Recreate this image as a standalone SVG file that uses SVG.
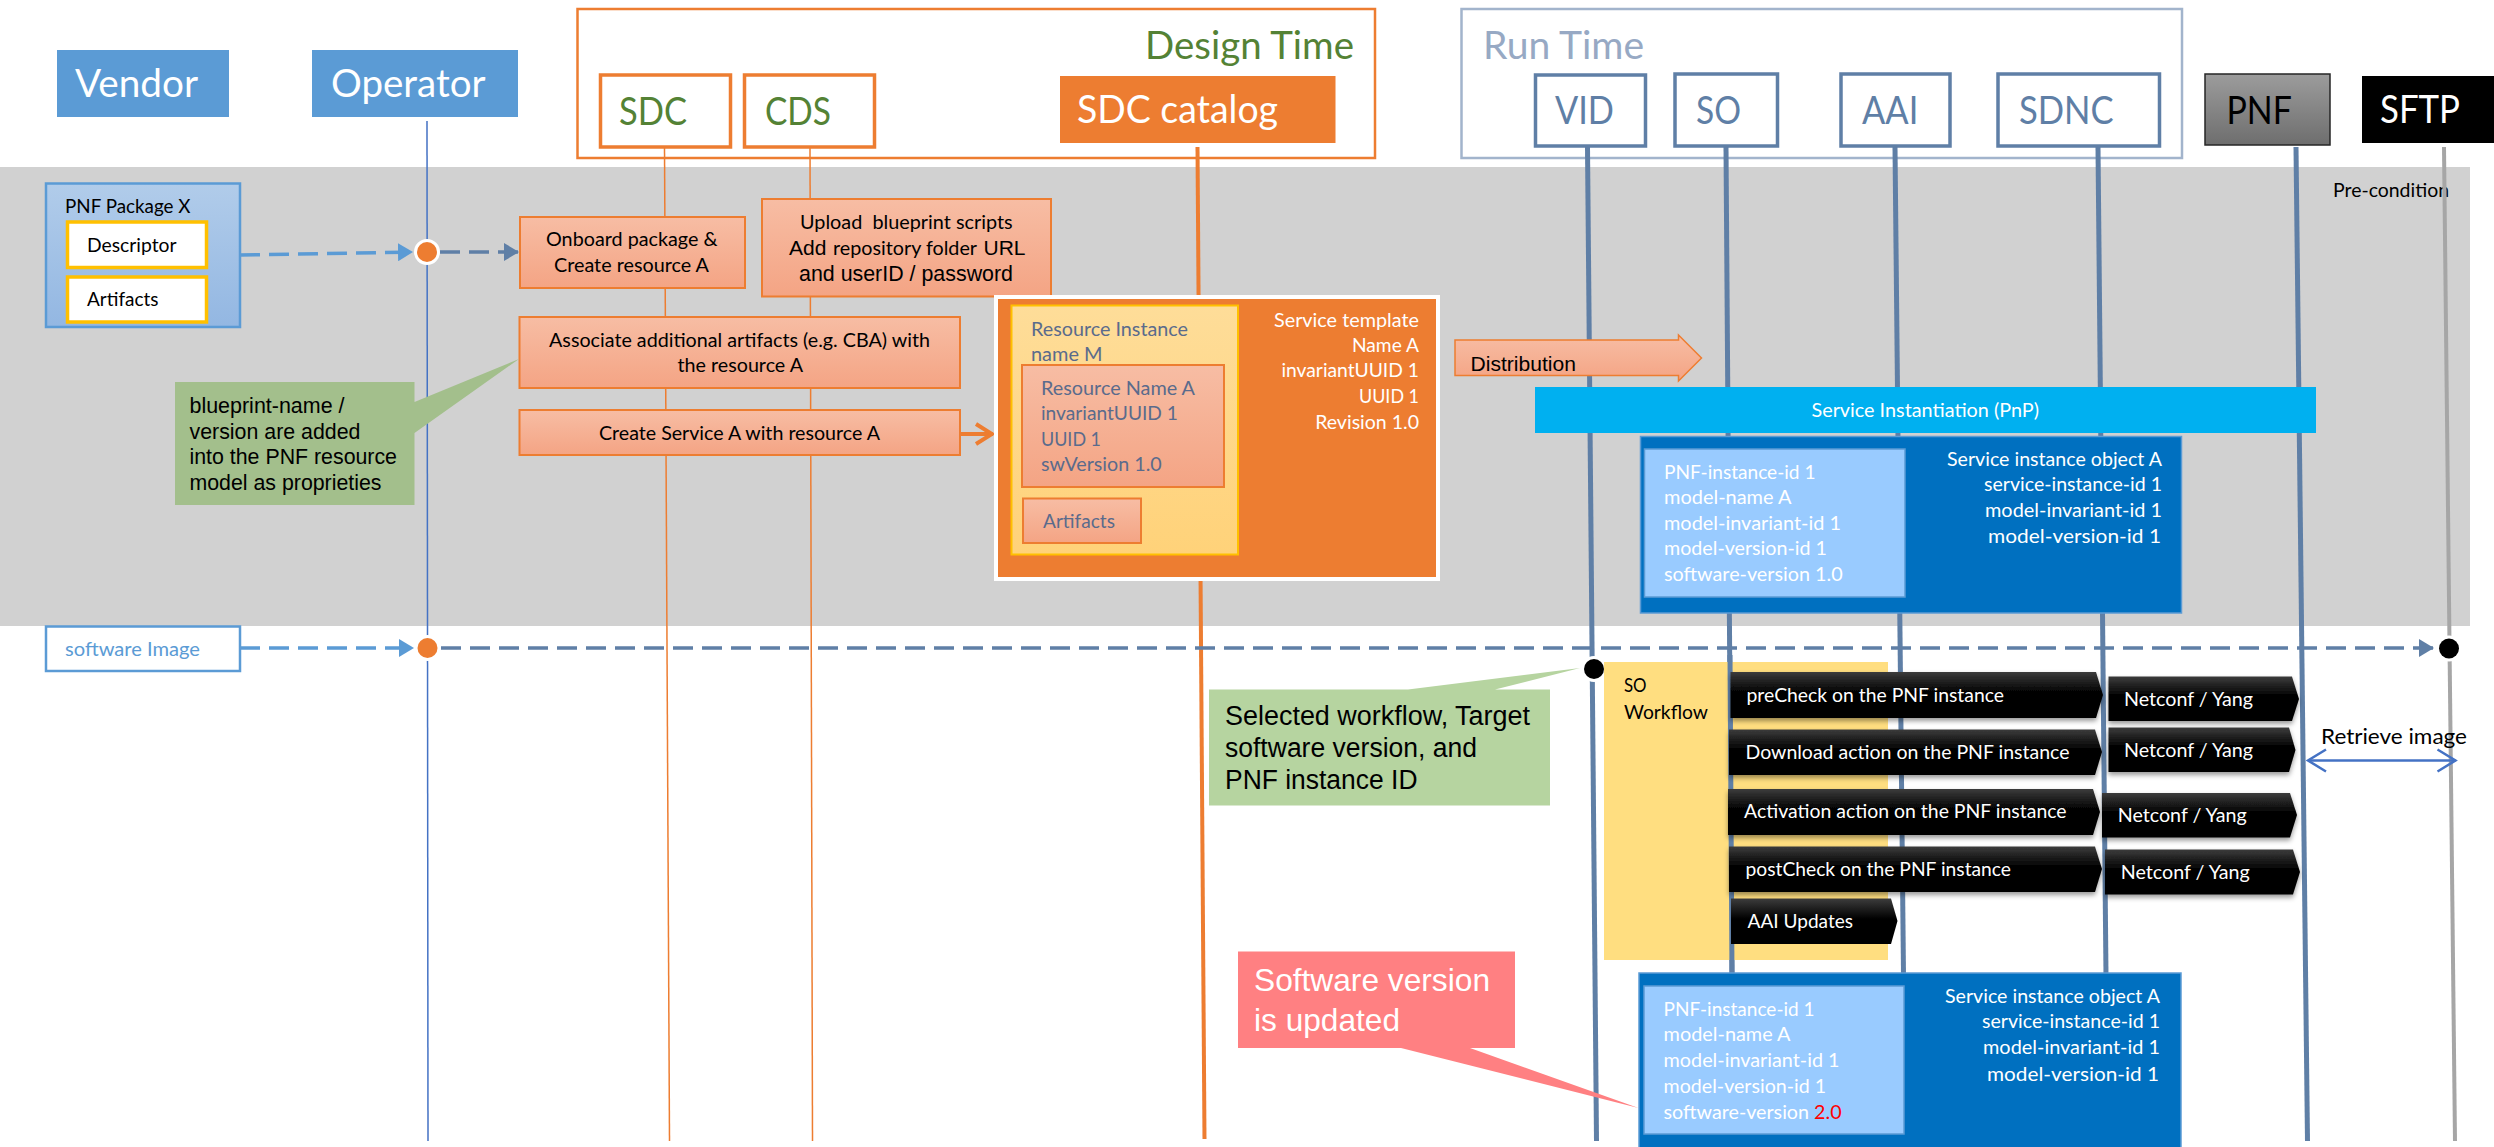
<svg xmlns="http://www.w3.org/2000/svg" width="2494" height="1147" viewBox="0 0 2494 1147">
<style>
text{font-family:Lato,"Open Sans",sans-serif;font-size:19.6px;white-space:pre}
.a{font-family:"Liberation Sans",Arial,sans-serif}
.t{font-size:39px}
.w{fill:#fff}.k{fill:#000}.g{fill:#548235}.s{fill:#5F7FA6}.d{fill:#5A6B8C}
.e{text-anchor:end}
.sal{fill:url(#sal);stroke:#ED7D31;stroke-width:2}
.ob{fill:#fff;stroke:#ED7D31;stroke-width:3.5}
.rb{fill:#fff;stroke:#5F7FA6;stroke-width:3.5}
.yb{fill:#fff;stroke:#FFC000;stroke-width:3.5}
.life{stroke:#5F7FA6;stroke-width:5;fill:none}
.dl{stroke-width:3.5;stroke-dasharray:20 9;fill:none}
.blk{fill:url(#blk);filter:url(#sh)}
.blu{fill:#0070C0;stroke:#5B9BD5;stroke-width:1.5}
.lb{fill:#99CBFF;stroke:#5B9BD5;stroke-width:1.5}
.dot{stroke:#fff;stroke-width:6;paint-order:stroke}
</style>
<defs>
<linearGradient id="sal" x1="0" y1="0" x2="0" y2="1"><stop offset="0" stop-color="#F7BDA4"/><stop offset="1" stop-color="#F4A484"/></linearGradient>
<linearGradient id="pkg" x1="0" y1="0" x2="0" y2="1"><stop offset="0" stop-color="#B1CCEA"/><stop offset="1" stop-color="#93B7E2"/></linearGradient>
<linearGradient id="yel" x1="0" y1="0" x2="0" y2="1"><stop offset="0" stop-color="#FEDD99"/><stop offset="1" stop-color="#FFD279"/></linearGradient>
<linearGradient id="pnf" x1="0" y1="0" x2="0" y2="1"><stop offset="0" stop-color="#9C9C9C"/><stop offset="1" stop-color="#6E6E6E"/></linearGradient>
<linearGradient id="blk" x1="0" y1="0" x2="0" y2="1"><stop offset="0" stop-color="#3C3C3C"/><stop offset="0.45" stop-color="#000"/><stop offset="1" stop-color="#000"/></linearGradient>
<filter id="sh" x="-5%" y="-10%" width="110%" height="130%"><feDropShadow dx="0" dy="3" stdDeviation="2.5" flood-color="#000" flood-opacity="0.4"/></filter>
<marker id="mb" markerUnits="userSpaceOnUse" markerWidth="15" markerHeight="18" refX="15" refY="9" orient="auto"><path d="M0 0L15 9L0 18z" fill="#5B9BD5"/></marker>
<marker id="ms" markerUnits="userSpaceOnUse" markerWidth="15" markerHeight="18" refX="15" refY="9" orient="auto"><path d="M0 0L15 9L0 18z" fill="#5F7FA6"/></marker>
<marker id="mo" markerUnits="userSpaceOnUse" markerWidth="20" markerHeight="24" refX="19" refY="12" orient="auto"><path d="M2 2L18 12L2 22" fill="none" stroke="#ED7D31" stroke-width="4"/></marker>
<marker id="mr" markerUnits="userSpaceOnUse" markerWidth="22" markerHeight="26" refX="20" refY="13" orient="auto-start-reverse"><path d="M2 2L20 13L2 24" fill="none" stroke="#4472C4" stroke-width="2.5"/></marker>
</defs>
<rect id="precondition-band" x="0" y="167" width="2470" height="459" fill="#D1D1D1"/>
<g id="design-time"><rect x="577.5" y="9" width="797.5" height="149" fill="none" stroke="#ED7D31" stroke-width="2.5"/><text class="t g" x="1145" y="59" textLength="209" lengthAdjust="spacingAndGlyphs">Design Time</text></g>
<g id="run-time"><rect x="1461.5" y="9" width="720.5" height="149" fill="none" stroke="#A2B4CC" stroke-width="2.5"/><text class="t" fill="#97A9C4" x="1483" y="59" textLength="161" lengthAdjust="spacingAndGlyphs">Run Time</text></g>
<text id="pre-condition" class="k" x="2333" y="196.5" textLength="116" lengthAdjust="spacingAndGlyphs">Pre-condition</text>
<g id="connectors">
<line x1="427" y1="121" x2="428" y2="1141" stroke="#4472C4" stroke-width="1.5"/>
<line x1="664.5" y1="147" x2="669.5" y2="1141" stroke="#ED7D31" stroke-width="1.5"/>
<line x1="810" y1="147" x2="812.5" y2="1141" stroke="#ED7D31" stroke-width="1.5"/>
<line x1="1197.5" y1="147" x2="1204.5" y2="1139" stroke="#ED7D31" stroke-width="4"/>
<line class="life" x1="1587.5" y1="147" x2="1596.5" y2="1141"/>
<line class="life" x1="1726" y1="147" x2="1732" y2="975"/>
<line class="life" x1="1895" y1="147" x2="1903.5" y2="975"/>
<line class="life" x1="2098" y1="147" x2="2106" y2="975"/>
<line class="life" x1="2296" y1="147" x2="2307.5" y2="1141"/>
<line x1="2444" y1="147" x2="2455" y2="1141" stroke="#A6A6A6" stroke-width="4"/>
<line class="dl" stroke="#5B9BD5" x1="240" y1="255" x2="413" y2="252" marker-end="url(#mb)"/>
<line class="dl" stroke="#5F7FA6" x1="440" y1="252" x2="519" y2="252" marker-end="url(#ms)"/>
<line class="dl" stroke="#5B9BD5" x1="240" y1="648" x2="414" y2="648" marker-end="url(#mb)"/>
<line class="dl" stroke="#5F7FA6" x1="441" y1="648" x2="2434" y2="648" marker-end="url(#ms)"/>
<line x1="960" y1="434" x2="993" y2="434" stroke="#ED7D31" stroke-width="4" marker-end="url(#mo)"/>
<line x1="2308" y1="760.5" x2="2455.5" y2="760.5" stroke="#4472C4" stroke-width="2.5" marker-start="url(#mr)" marker-end="url(#mr)"/>
</g>
<g id="vendor"><rect x="57" y="50" width="172" height="67" fill="#5B9BD5"/><text class="t w" x="75" y="96.7" textLength="123" lengthAdjust="spacingAndGlyphs">Vendor</text></g>
<g id="operator"><rect x="312" y="50" width="206" height="67" fill="#5B9BD5"/><text class="t w" x="331" y="96.7" textLength="154.5" lengthAdjust="spacingAndGlyphs">Operator</text></g>
<g id="sdc"><rect class="ob" x="600.5" y="75" width="130" height="72"/><text class="t g" x="619" y="125" textLength="68" lengthAdjust="spacingAndGlyphs">SDC</text></g>
<g id="cds"><rect class="ob" x="744.5" y="75" width="130" height="72"/><text class="t g" x="765" y="125" textLength="66" lengthAdjust="spacingAndGlyphs">CDS</text></g>
<g id="sdc-catalog"><rect x="1060" y="76" width="275.5" height="67" fill="#ED7D31"/><text class="t w" x="1077" y="122.5" textLength="201" lengthAdjust="spacingAndGlyphs">SDC catalog</text></g>
<g id="vid"><rect class="rb" x="1535.5" y="75" width="110" height="71"/><text class="t s" x="1555" y="124" textLength="59" lengthAdjust="spacingAndGlyphs">VID</text></g>
<g id="so"><rect class="rb" x="1675" y="74" width="102.5" height="72"/><text class="t s" x="1696" y="124" textLength="45" lengthAdjust="spacingAndGlyphs">SO</text></g>
<g id="aai"><rect class="rb" x="1841" y="74" width="109" height="72"/><text class="t s" x="1862" y="124" textLength="56.4" lengthAdjust="spacingAndGlyphs">AAI</text></g>
<g id="sdnc"><rect class="rb" x="1998" y="74" width="161.5" height="72"/><text class="t s" x="2019" y="124" textLength="94.7" lengthAdjust="spacingAndGlyphs">SDNC</text></g>
<g id="pnf"><rect x="2205" y="74" width="125" height="71" fill="url(#pnf)" stroke="#262626" stroke-width="1.5"/><text class="t k" x="2226.5" y="124" textLength="65.4" lengthAdjust="spacingAndGlyphs">PNF</text></g>
<g id="sftp"><rect x="2362" y="76" width="132" height="67" fill="#000"/><text class="t w" x="2380" y="122.5" textLength="80" lengthAdjust="spacingAndGlyphs">SFTP</text></g>
<g id="pnf-package"><rect x="46" y="183.5" width="194" height="143.5" fill="url(#pkg)" stroke="#5B9BD5" stroke-width="2.5"/><text class="k" x="65" y="213" textLength="125.5" lengthAdjust="spacingAndGlyphs">PNF Package X</text></g>
<g id="descriptor"><rect class="yb" x="67.5" y="222" width="139" height="45.5"/><text class="k" x="87" y="252" textLength="89.5" lengthAdjust="spacingAndGlyphs">Descriptor</text></g>
<g id="artifacts"><rect class="yb" x="67.5" y="277" width="139" height="45"/><text class="k" x="87" y="306" textLength="71.5" lengthAdjust="spacingAndGlyphs">Artifacts</text></g>
<g id="operator-dot-1"><circle class="dot" cx="427" cy="252" r="10" fill="#ED7D31"/></g>
<g id="onboard"><rect class="sal" x="520" y="217" width="225" height="71"/><text class="k" x="546" y="246" textLength="171.5" lengthAdjust="spacingAndGlyphs">Onboard package &amp;</text><text class="k" x="554" y="272" textLength="155" lengthAdjust="spacingAndGlyphs">Create resource A</text></g>
<g id="upload"><rect class="sal" x="762" y="199" width="289" height="97.5"/><text class="k" x="800" y="229" textLength="212.6" lengthAdjust="spacingAndGlyphs">Upload  blueprint scripts</text><text class="k" y="255"><tspan class="a" x="789" style="font-size:21px">Add</tspan><tspan x="833" textLength="144" lengthAdjust="spacingAndGlyphs">repository folder</tspan><tspan class="a" x="983.5" style="font-size:21px">URL</tspan></text><text class="k a" x="799" y="280.6" style="font-size:21.3px" textLength="214" lengthAdjust="spacingAndGlyphs">and userID / password</text></g>
<g id="associate"><rect class="sal" x="519.5" y="317" width="440.5" height="71"/><text class="k" x="549" y="347" textLength="381" lengthAdjust="spacingAndGlyphs">Associate additional artifacts (e.g. CBA) with</text><text class="k" x="677.5" y="372" textLength="125.5" lengthAdjust="spacingAndGlyphs">the resource A</text></g>
<g id="create-service"><rect class="sal" x="519.5" y="410" width="440.5" height="45"/><text class="k" x="599" y="440" textLength="281" lengthAdjust="spacingAndGlyphs">Create Service A with resource A</text></g>
<g id="blueprint-note"><path d="M175 382H414.5V402L519 359L414.5 433V505H175z" fill="#A3BF8C"/><g class="k"><text class="a" x="189.5" y="413" textLength="155" lengthAdjust="spacingAndGlyphs" style="font-size:21.6px">blueprint-name /</text><text class="a" x="189.5" y="439" textLength="171" lengthAdjust="spacingAndGlyphs" style="font-size:21.6px">version are added</text><text class="a" x="189.5" y="464" textLength="207.5" lengthAdjust="spacingAndGlyphs" style="font-size:21.6px">into the PNF resource</text><text class="a" x="189.5" y="490" textLength="192" lengthAdjust="spacingAndGlyphs" style="font-size:21.6px">model as proprieties</text></g></g>
<g id="service-template"><rect x="996" y="297" width="442" height="282" fill="#ED7D31" stroke="#fff" stroke-width="4"/>
<text class="w e" x="1419" y="326.5" textLength="145" lengthAdjust="spacingAndGlyphs">Service template</text><text class="w e" x="1419" y="352" textLength="67" lengthAdjust="spacingAndGlyphs">Name A</text><text class="w e" x="1419" y="377" textLength="137.6" lengthAdjust="spacingAndGlyphs">invariantUUID 1</text><text class="w e" x="1419" y="403" textLength="60" lengthAdjust="spacingAndGlyphs">UUID 1</text><text class="w e" x="1419" y="428.5" textLength="103.8" lengthAdjust="spacingAndGlyphs">Revision 1.0</text></g>
<g id="resource-instance"><rect x="1011.5" y="305.5" width="226.5" height="249" fill="url(#yel)" stroke="#FFC000" stroke-width="2"/><text class="d" x="1031" y="336" textLength="157" lengthAdjust="spacingAndGlyphs">Resource Instance</text><text class="d" x="1031" y="361" textLength="71.5" lengthAdjust="spacingAndGlyphs">name M</text></g>
<g id="resource"><rect class="sal" x="1022" y="365" width="202" height="122"/><text class="d" x="1041" y="395" textLength="154" lengthAdjust="spacingAndGlyphs">Resource Name A</text><text class="d" x="1041" y="420" textLength="137" lengthAdjust="spacingAndGlyphs">invariantUUID 1</text><text class="d" x="1041" y="446" textLength="60" lengthAdjust="spacingAndGlyphs">UUID 1</text><text class="d" x="1041" y="471" textLength="120.7" lengthAdjust="spacingAndGlyphs">swVersion 1.0</text></g>
<g id="resource-artifacts"><rect class="sal" x="1023" y="498.5" width="118" height="44.5"/><text class="d" x="1043" y="528" textLength="72" lengthAdjust="spacingAndGlyphs">Artifacts</text></g>
<g id="distribution"><path d="M1455 340H1678.5V335L1701.5 358L1678.5 381V375.5H1455z" fill="url(#sal)" stroke="#ED7D31" stroke-width="1.5"/><text class="a k" x="1470.5" y="371" textLength="105.5" lengthAdjust="spacingAndGlyphs" style="font-size:21px">Distribution</text></g>
<g id="service-instantiation"><rect x="1535" y="387" width="781" height="46" fill="#00B0F0"/><text class="w" x="1811.5" y="417" textLength="227.5" lengthAdjust="spacingAndGlyphs">Service Instantiation (PnP)</text></g>
<g id="service-instance-1"><rect class="blu" x="1640.5" y="436.5" width="541" height="176.5"/><text class="w e" x="2162" y="466" textLength="215" lengthAdjust="spacingAndGlyphs">Service instance object A</text><text class="w e" x="2162" y="491" textLength="178" lengthAdjust="spacingAndGlyphs">service-instance-id 1</text><text class="w e" x="2162" y="517" textLength="177" lengthAdjust="spacingAndGlyphs">model-invariant-id 1</text><text class="w e" x="2161" y="543" textLength="173" lengthAdjust="spacingAndGlyphs">model-version-id 1</text></g>
<g id="pnf-instance-1"><rect class="lb" x="1644.5" y="449" width="260.5" height="148"/><text class="w" x="1664" y="479" textLength="151.5" lengthAdjust="spacingAndGlyphs">PNF-instance-id 1</text><text class="w" x="1664" y="504" textLength="127.5" lengthAdjust="spacingAndGlyphs">model-name A</text><text class="w" x="1664" y="530" textLength="177" lengthAdjust="spacingAndGlyphs">model-invariant-id 1</text><text class="w" x="1664" y="555" textLength="163" lengthAdjust="spacingAndGlyphs">model-version-id 1</text><text class="w" x="1664" y="581" textLength="178.7" lengthAdjust="spacingAndGlyphs">software-version 1.0</text></g>
<g id="software-image"><rect x="46" y="626.5" width="194" height="44.5" fill="#fff" stroke="#5B9BD5" stroke-width="2.5"/><text fill="#5B9BD5" x="65" y="656" textLength="135" lengthAdjust="spacingAndGlyphs">software Image</text></g>
<g id="operator-dot-2"><circle class="dot" cx="427.5" cy="648" r="10" fill="#ED7D31"/></g>
<g id="sftp-dot"><circle class="dot" cx="2449" cy="648.5" r="10" fill="#000"/></g>
<g id="vid-dot"><circle class="dot" cx="1594" cy="669" r="10" fill="#000"/></g>
<g id="workflow-note"><path d="M1209 689.5H1408L1580 668L1495 689.5H1550V805.5H1209z" fill="#B6D4A0"/><text class="a k" x="1225" y="725" textLength="305" lengthAdjust="spacingAndGlyphs" style="font-size:27px">Selected workflow, Target</text><text class="a k" x="1225" y="757" textLength="252" lengthAdjust="spacingAndGlyphs" style="font-size:27px">software version, and</text><text class="a k" x="1225" y="789" textLength="192.5" lengthAdjust="spacingAndGlyphs" style="font-size:27px">PNF instance ID</text></g>
<g id="so-workflow"><rect x="1604" y="662" width="284" height="298" fill="#FFDE80"/><text class="k" x="1624" y="692" textLength="22.6" lengthAdjust="spacingAndGlyphs">SO</text><text class="k" x="1624" y="718.5" textLength="84" lengthAdjust="spacingAndGlyphs">Workflow</text></g>
<line id="so-line-over-workflow" class="life" x1="1730" y1="655" x2="1732" y2="975"/>
<g id="precheck"><path class="blk" d="M1730.5 672H2096L2103 695L2096 718H1730.5z"/><text class="w" x="1746.5" y="701.7" textLength="257.5" lengthAdjust="spacingAndGlyphs">preCheck on the PNF instance</text></g>
<g id="download"><path class="blk" d="M1729 729.5H2095L2102 752L2095 775H1729z"/><text class="w" x="1745.5" y="759" textLength="324" lengthAdjust="spacingAndGlyphs">Download action on the PNF instance</text></g>
<g id="activation"><path class="blk" d="M1728 789H2093L2100 812L2093 835H1728z"/><text class="w" x="1744" y="818" textLength="322.6" lengthAdjust="spacingAndGlyphs">Activation action on the PNF instance</text></g>
<g id="postcheck"><path class="blk" d="M1729 846.5H2095L2102 869L2095 892H1729z"/><text class="w" x="1745.5" y="876" textLength="265.5" lengthAdjust="spacingAndGlyphs">postCheck on the PNF instance</text></g>
<g id="aai-updates"><path class="blk" d="M1731 898.5H1891L1897.5 921L1891 944H1731z" style="filter:none"/><text class="w" x="1747.5" y="928" textLength="105.5" lengthAdjust="spacingAndGlyphs">AAI Updates</text></g>
<g id="netconf-1"><path class="blk" d="M2108.5 676.5H2292L2299 699L2292 721H2108.5z"/><text class="w" x="2124" y="706" textLength="129" lengthAdjust="spacingAndGlyphs">Netconf / Yang</text></g>
<g id="netconf-2"><path class="blk" d="M2108.5 727.5H2289L2295.5 750L2289 772H2108.5z"/><text class="w" x="2124" y="757" textLength="129" lengthAdjust="spacingAndGlyphs">Netconf / Yang</text></g>
<g id="netconf-3"><path class="blk" d="M2102 793H2290L2297 815L2290 837.5H2102z"/><text class="w" x="2117.7" y="822" textLength="129" lengthAdjust="spacingAndGlyphs">Netconf / Yang</text></g>
<g id="netconf-4"><path class="blk" d="M2105 849.5H2293L2300 872L2293 894.5H2105z"/><text class="w" x="2120.8" y="879" textLength="129" lengthAdjust="spacingAndGlyphs">Netconf / Yang</text></g>
<text id="retrieve-image" class="k" x="2321" y="743.7" textLength="146" lengthAdjust="spacingAndGlyphs" style="font-size:22px">Retrieve image</text>
<g id="service-instance-2"><rect class="blu" x="1639" y="973" width="542" height="176"/><text class="w e" x="2160" y="1003" textLength="215" lengthAdjust="spacingAndGlyphs">Service instance object A</text><text class="w e" x="2160" y="1028" textLength="178" lengthAdjust="spacingAndGlyphs">service-instance-id 1</text><text class="w e" x="2160" y="1053.6" textLength="177" lengthAdjust="spacingAndGlyphs">model-invariant-id 1</text><text class="w e" x="2159" y="1080.5" textLength="172" lengthAdjust="spacingAndGlyphs">model-version-id 1</text></g>
<g id="pnf-instance-2"><rect class="lb" x="1644" y="986" width="260" height="148"/><text class="w" x="1663.6" y="1016" textLength="151" lengthAdjust="spacingAndGlyphs">PNF-instance-id 1</text><text class="w" x="1663.6" y="1041" textLength="127" lengthAdjust="spacingAndGlyphs">model-name A</text><text class="w" x="1663.6" y="1067" textLength="176" lengthAdjust="spacingAndGlyphs">model-invariant-id 1</text><text class="w" x="1663.6" y="1093" textLength="162.5" lengthAdjust="spacingAndGlyphs">model-version-id 1</text><text class="w" x="1663.6" y="1118.5" textLength="178" lengthAdjust="spacingAndGlyphs">software-version <tspan fill="#F00">2.0</tspan></text></g>
<g id="updated-note"><path d="M1238 951.5H1515V1048H1470L1638.5 1108L1401 1048H1238z" fill="#FF8082"/><text class="a w" x="1254" y="991.4" textLength="236" lengthAdjust="spacingAndGlyphs" style="font-size:32px">Software version</text><text class="a w" x="1254" y="1030.8" textLength="146" lengthAdjust="spacingAndGlyphs" style="font-size:32px">is updated</text></g>
</svg>
